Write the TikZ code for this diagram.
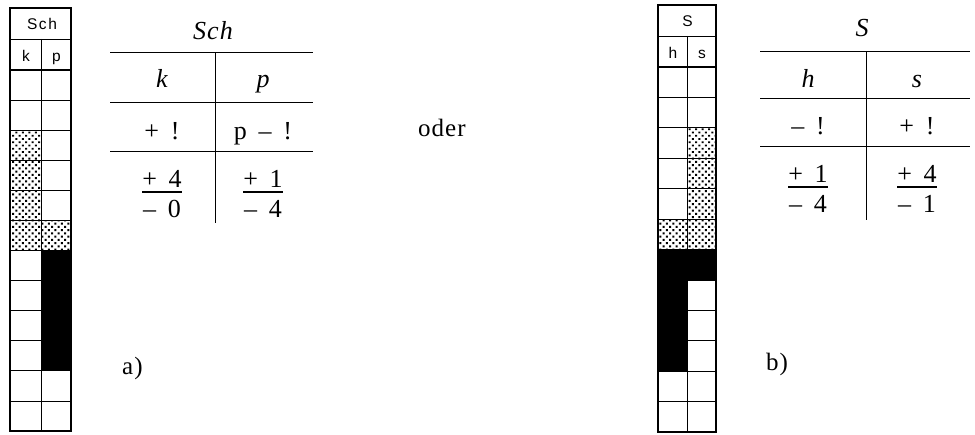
\documentclass[tikz,border=0pt]{standalone}
\usepackage{fontspec}
\setmainfont{Liberation Serif}[LetterSpace=4]
\setsansfont{Liberation Sans}[LetterSpace=10]
\usetikzlibrary{patterns.meta}
\newcommand\tgap{\hspace{0.45em}}
\tikzset{
  gridline/.style={line width=0.8pt},
  colframe/.style={line width=2.8pt},
  headline/.style={line width=2.2pt},
  stip/.style={pattern={Dots[radius=1.4pt,distance=4.6pt,angle=45]},pattern color=black},
  blk/.style={fill=black},
  colhead/.style={font=\sffamily\fontsize{15.5}{16}\selectfont, inner sep=0pt, anchor=base},
  tabtext/.style={font=\fontsize{26}{28}\selectfont, inner sep=0pt, anchor=base},
  tabit/.style={font=\itshape\fontsize{26}{28}\selectfont, inner sep=0pt, anchor=base},
  tabrule/.style={line width=1pt},
  fracbar/.style={line width=1.3pt},
  plain/.style={font=\fontsize{25}{28}\selectfont, inner sep=0pt, anchor=base west},
}
\begin{document}
\begin{tikzpicture}[x=1pt,y=-1pt]
\useasboundingbox (0,0) rectangle (975,435);

% ---------- column a) ----------
\fill[stip] (10,130.17) rectangle (41,220.42);
\fill[stip] (10,220.42) rectangle (71,250.5);
\fill[blk] (41,250.5) rectangle (71,370.83);
\foreach \i in {0,...,12}{
  \draw[gridline] (10,{70+\i*30.083}) -- (71,{70+\i*30.083});
}
\draw[gridline] (10,39) -- (71,39);
\draw[gridline] (41,39) -- (41,431);
\draw[headline] (10,70) -- (71,70);
\draw[colframe] (10,8) rectangle (71,431);
\node[colhead] (aSch) at (42,30) {Sch};
\node[colhead] (ak) at (26,62) {k};
\node[colhead] (ap) at (56.5,62) {p};

% ---------- table a) ----------
\node[tabit] (tSch) at (213,40) {Sch};
\draw[tabrule] (110,53) -- (313,53);
\draw[tabrule] (110,103) -- (313,103);
\draw[tabrule] (110,152) -- (313,152);
\draw[tabrule] (215,53) -- (215,223);
\node[tabit] (tk) at (162,88) {k};
\node[tabit] (tp) at (263,88) {p};
\node[tabtext] (tk2) at (162,140) {+\tgap!};
\node[tabtext] (tp2) at (263,140) {p\tgap–\tgap!};
\node[tabtext] (tk3) at (162,188) {+\tgap4};
\node[tabtext] (tk4) at (162,218) {–\tgap0};
\node[tabtext] (tp3) at (263,188) {+\tgap1};
\node[tabtext] (tp4) at (263,218) {–\tgap4};
\draw[fracbar] ([yshift=-4pt]tk3.base west) -- ([yshift=-4pt]tk3.base east);
\draw[fracbar] ([yshift=-4pt]tp3.base west) -- ([yshift=-4pt]tp3.base east);

\node[plain] (oder) at (418,137) {oder};
\node[plain] (la) at (122,375) {a)};
\node[plain] (lb) at (766,371) {b)};

% ---------- column b) ----------
\fill[stip] (687,127.83) rectangle (716,219.08);
\fill[stip] (658,219.08) rectangle (716,249.5);
\fill[blk] (658,249.5) rectangle (716,279.92);
\fill[blk] (658,279.92) rectangle (687,371.17);
\foreach \i in {0,...,12}{
  \draw[gridline] (658,{67+\i*30.417}) -- (716,{67+\i*30.417});
}
\draw[gridline] (658,36) -- (716,36);
\draw[gridline] (687,36) -- (687,432);
\draw[headline] (658,67) -- (716,67);
\draw[colframe] (658,5) rectangle (716,432);
\node[colhead] (bS) at (687.5,27) {S};
\node[colhead] (bh) at (673,59) {h};
\node[colhead] (bs) at (702,59) {s};

% ---------- table b) ----------
\node[tabit] (tS) at (862,37) {S};
\draw[tabrule] (760,52) -- (970,52);
\draw[tabrule] (760,99) -- (970,99);
\draw[tabrule] (760,147) -- (970,147);
\draw[tabrule] (866,52) -- (866,220);
\node[tabit] (th) at (808,88) {h};
\node[tabit] (ts) at (917,88) {s};
\node[tabtext] (th2) at (808,135) {–\tgap!};
\node[tabtext] (ts2) at (917,135) {+\tgap!};
\node[tabtext] (th3) at (808,183) {+\tgap1};
\node[tabtext] (th4) at (808,213) {–\tgap4};
\node[tabtext] (ts3) at (917,183) {+\tgap4};
\node[tabtext] (ts4) at (917,213) {–\tgap1};
\draw[fracbar] ([yshift=-4pt]th3.base west) -- ([yshift=-4pt]th3.base east);
\draw[fracbar] ([yshift=-4pt]ts3.base west) -- ([yshift=-4pt]ts3.base east);
\end{tikzpicture}
\end{document}
